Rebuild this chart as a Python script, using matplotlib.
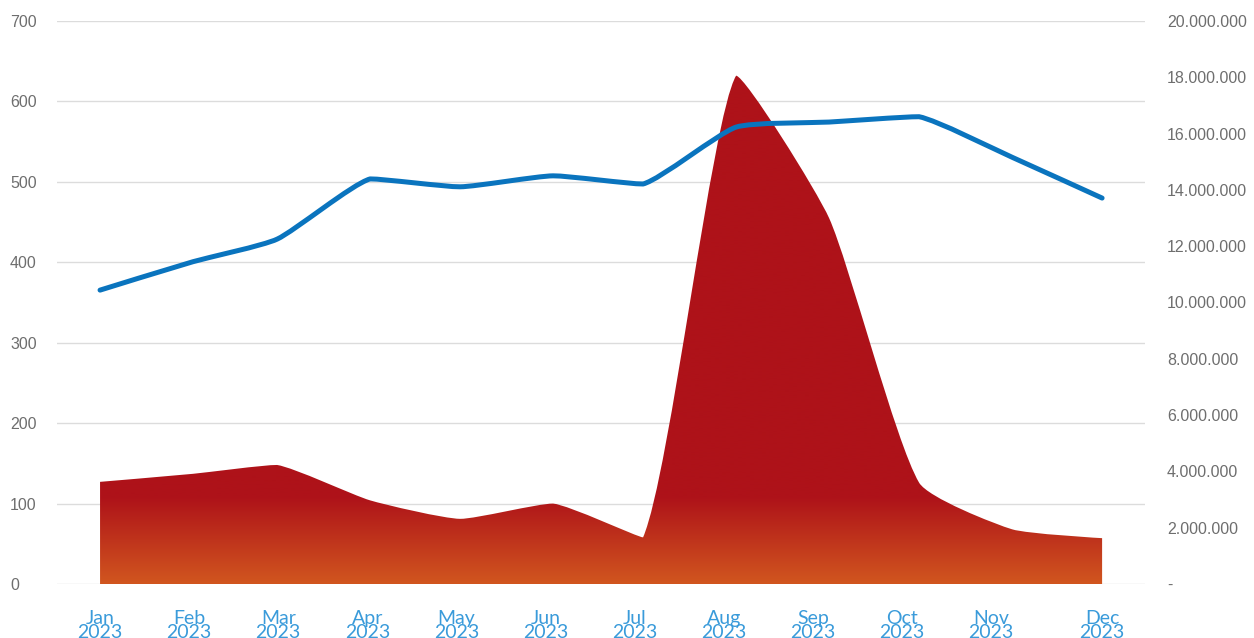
import numpy as np
import pandas as pd
import matplotlib
matplotlib.use("Agg")
import matplotlib.pyplot as plt
from matplotlib.path import Path
from matplotlib.patches import PathPatch
from matplotlib.colors import to_rgb

# ---------------- data ----------------
months = ["Jan", "Feb", "Mar", "Apr", "May", "Jun",
          "Jul", "Aug", "Sep", "Oct", "Nov", "Dec"]
year_label = "2023"
dates = pd.date_range("2023-01-01", periods=12, freq="MS")
area_values = [127, 137, 148, 104, 81, 100, 58, 632, 455, 126, 68, 57]          # left axis
line_values = [10.44e6, 11.45e6, 12.25e6, 14.39e6, 14.11e6, 14.50e6,
               14.21e6, 16.23e6, 16.41e6, 16.60e6, 15.16e6, 13.71e6]            # right axis
left_ticks = [0, 100, 200, 300, 400, 500, 600, 700]
right_ticks = [0, 2e6, 4e6, 6e6, 8e6, 10e6, 12e6, 14e6, 16e6, 18e6, 20e6]

# ---------------- style ----------------
W, H = 1254, 638
RED = "#AE1219"
ORANGE = "#D1561F"
BLUE = "#0A74BE"
LABEL_BLUE = "#3A9BDA"
GREY = "#6E6E6E"
GRID = "#DCDCDC"
SMOOTH = 0.18

fig = plt.figure(figsize=(W / 100, H / 100), dpi=100)
ax = fig.add_axes([57 / W, 54 / H, 1088 / W, 563 / H])
ax2 = ax.twinx()

x = (dates - dates[0]).days.values.astype(float)
ax.set_xlim(-14.35, 348.3)
ax.set_ylim(0, 700)
ax2.set_ylim(0, 20e6)

for a in (ax, ax2):
    for s in a.spines.values():
        s.set_visible(False)

ax.set_axisbelow(True)
ax.set_yticks(left_ticks)
ax.yaxis.grid(True, color=GRID, linewidth=1.0)
ax.xaxis.grid(False)


def smooth_path(axis, xs, ys, smooth=SMOOTH):
    pts = axis.transData.transform(np.column_stack([xs, ys]))
    n = len(pts)
    verts = [pts[0]]
    codes = [Path.MOVETO]
    cp0 = pts[0].copy()
    for i in range(1, n):
        p = pts[i]
        prev = pts[i - 1]
        if i == n - 1:
            cp1 = p.copy()
            nxt_cp0 = None
        else:
            nxt = pts[i + 1]
            v = nxt - prev
            lp = np.hypot(*(p - prev))
            ln = np.hypot(*(nxt - p))
            r = ln / (ln + lp)
            cp1 = p - v * smooth * (1 - r)
            nxt_cp0 = p + v * smooth * r
            cp1 = np.clip(cp1, np.minimum(prev, p), np.maximum(prev, p))
            nxt_cp0 = np.clip(nxt_cp0, np.minimum(nxt, p), np.maximum(nxt, p))
        verts += [cp0, cp1, p]
        codes += [Path.CURVE4] * 3
        cp0 = nxt_cp0
    verts = axis.transData.inverted().transform(np.array(verts))
    return verts, codes


# ---- area with vertical gradient (left axis) ----
av, ac = smooth_path(ax, x, np.array(area_values, dtype=float))
av = np.vstack([av, [[x[-1], 0], [x[0], 0], [x[0], 0]]])
ac = ac + [Path.LINETO, Path.LINETO, Path.CLOSEPOLY]
area_patch = PathPatch(Path(av, ac), facecolor="none", edgecolor="none",
                       transform=ax.transData)
ax.add_patch(area_patch)

yy = np.linspace(0, 700, 700)
t = np.clip(yy / 108.0, 0, 1)[:, None]
c_red = np.array(to_rgb(RED))
c_or = np.array(to_rgb(ORANGE))
grad = (c_or * (1 - t) + c_red * t)[:, None, :]
im = ax.imshow(grad, aspect="auto", origin="lower",
               extent=[x[0], x[-1], 0, 700], interpolation="bilinear", zorder=2)
im.set_clip_path(area_patch)
ax.set_xlim(-14.35, 348.3)
ax.set_ylim(0, 700)

# ---- line (right axis) ----
lv, lc = smooth_path(ax2, x, np.array(line_values))
ax2.add_patch(PathPatch(Path(lv, lc), facecolor="none", edgecolor=BLUE,
                        linewidth=3.6, capstyle="round", joinstyle="round",
                        zorder=3))

# ---- x tick labels ----
tick_pos = [i * 29.7 for i in range(11)] + [x[-1]]
ax.set_xticks(tick_pos)
ax.set_xticklabels([f"{m}\n{year_label}" for m in months],
                   color=LABEL_BLUE, fontsize=14, family="Lato",
                   linespacing=0.78)
ax.tick_params(axis="x", length=0, pad=19)

# ---- left y labels ----
ax.tick_params(axis="y", length=0, pad=33.8, labelcolor=GREY, labelsize=11.5)
for lab in ax.get_yticklabels():
    lab.set_horizontalalignment("left")
    lab.set_family("Liberation Sans")

# ---- right y labels ----
ax2.set_yticks(right_ticks)
ax2.set_yticklabels(["-" if v == 0 else f"{int(v):,}".replace(",", ".")
                     for v in right_ticks], family="Liberation Sans")
ax2.tick_params(axis="y", length=0, pad=15.8, labelcolor=GREY, labelsize=11.5)
ax2.set_xlim(-14.35, 348.3)

fig.savefig("out.png", dpi=100)
